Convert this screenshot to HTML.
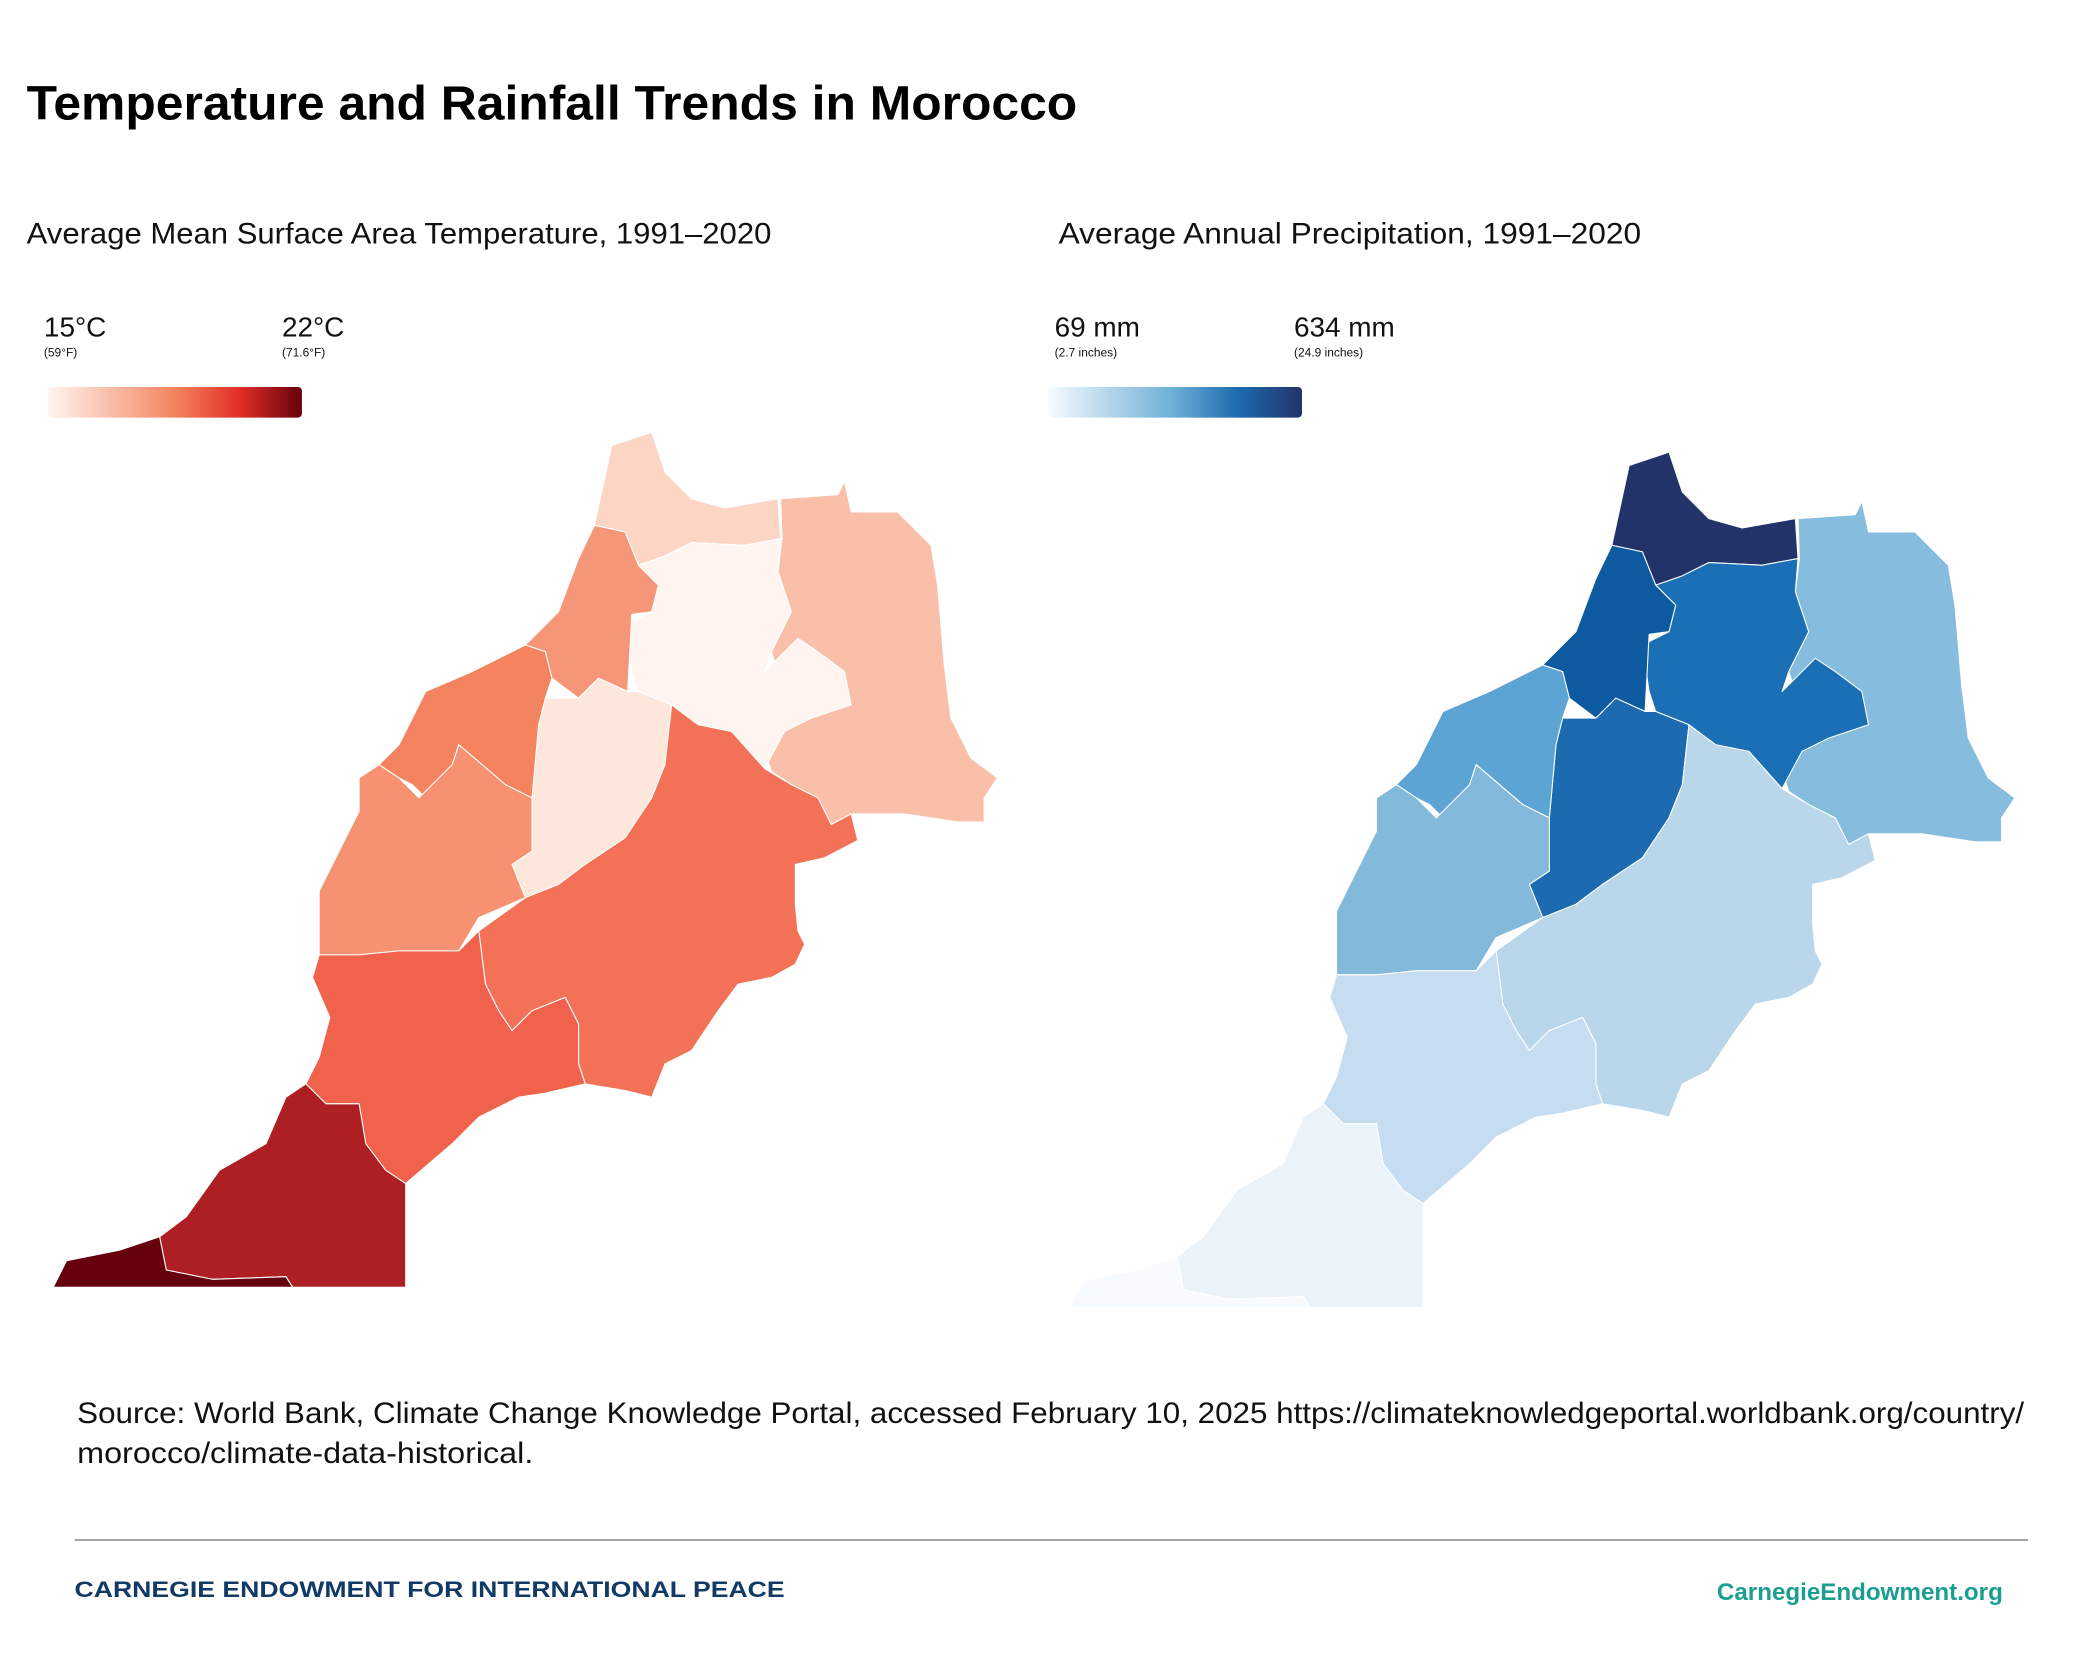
<!DOCTYPE html>
<html><head><meta charset="utf-8"><style>
html,body{margin:0;padding:0;background:#fff}
svg{display:block}
text{font-family:"Liberation Sans",sans-serif}
</style></head><body>
<svg width="2084" height="1665" viewBox="0 0 1567 1252" xmlns="http://www.w3.org/2000/svg">
<defs>
<linearGradient id="gr" x1="0" x2="1"><stop offset="0" stop-color="#fff5f0"/><stop offset="0.5" stop-color="#f4845f"/><stop offset="0.75" stop-color="#e32f27"/><stop offset="1" stop-color="#67000d"/></linearGradient>
<linearGradient id="gb" x1="0" x2="1"><stop offset="0" stop-color="#f7fbff"/><stop offset="0.5" stop-color="#6aaed6"/><stop offset="0.75" stop-color="#1c6aaf"/><stop offset="1" stop-color="#22336a"/></linearGradient>
</defs>
<text x="20" y="90" font-size="36" font-weight="bold" fill="#000" textLength="790" lengthAdjust="spacingAndGlyphs">Temperature and Rainfall Trends in Morocco</text>
<text x="20" y="183" font-size="22" fill="#111" textLength="560" lengthAdjust="spacingAndGlyphs">Average Mean Surface Area Temperature, 1991–2020</text>
<text x="796" y="183" font-size="22" fill="#111" textLength="438" lengthAdjust="spacingAndGlyphs">Average Annual Precipitation, 1991–2020</text>
<text x="33" y="253" font-size="21" fill="#111">15°C</text>
<text x="33" y="268" font-size="9" fill="#111">(59°F)</text>
<text x="212" y="253" font-size="21" fill="#111">22°C</text>
<text x="212" y="268" font-size="9" fill="#111">(71.6°F)</text>
<rect x="36" y="291" width="191" height="23" rx="3" fill="url(#gr)"/>
<text x="793" y="253" font-size="21" fill="#111">69 mm</text>
<text x="793" y="268" font-size="9" fill="#111">(2.7 inches)</text>
<text x="973" y="253" font-size="21" fill="#111">634 mm</text>
<text x="973" y="268" font-size="9" fill="#111">(24.9 inches)</text>
<rect x="788" y="291" width="191" height="23" rx="3" fill="url(#gb)"/>

<g stroke="#fff" stroke-width="0.8" stroke-linejoin="round">
<polygon fill="#fcd5c5" points="447,395 460,335 490,325 500,355 520,375 545,382 585,375 587,405 560,410 520,408 500,418 480,425 470,400"/>
<polygon fill="#f9bfa9" points="587,375 630,372 635,362 640,385 675,385 700,410 705,440 710,500 715,540 730,570 750,585 740,600 740,618 720,618 680,612 640,612 625,620 615,600 595,590 580,580 575,565 590,530 600,500 585,505 580,490 595,460 585,430 588,405"/>
<polygon fill="#fff4f0" points="480,425 500,418 520,408 560,410 587,405 585,430 595,460 580,490 575,505 600,480 615,490 635,505 640,530 610,540 590,550 575,578 550,550 525,545 505,530 480,520 475,505 470,470 490,460 495,440"/>
<polygon fill="#f69678" points="447,395 470,400 480,425 495,440 490,460 475,462 472,520 450,510 435,525 415,510 410,490 395,485 420,460 435,420"/>
<polygon fill="#fde6dc" points="410,525 435,525 450,510 472,520 480,520 505,530 500,575 490,600 470,630 440,650 420,665 395,675 385,650 400,640 400,600 405,545"/>
<polygon fill="#f4845f" points="395,485 410,490 415,510 410,525 405,545 400,600 380,590 345,560 340,575 320,600 310,590 300,585 285,575 300,560 320,520 355,505"/>
<polygon fill="#f69272" points="285,575 300,585 315,600 340,575 345,560 380,590 400,600 400,640 385,650 395,675 360,690 345,715 300,715 270,718 240,718 240,670 255,640 270,610 270,585"/>
<polygon fill="#f37157" points="500,575 505,530 525,545 550,550 575,578 595,590 615,600 625,620 640,612 645,632 620,645 598,650 598,680 600,700 605,710 598,725 580,735 555,740 540,760 520,790 500,800 490,825 470,820 440,815 435,800 435,770 425,750 400,760 385,775 375,760 365,740 360,700 395,675 420,665 440,650 470,630 490,600"/>
<polygon fill="#f0624b" points="240,718 270,718 300,715 345,715 360,700 365,740 375,760 385,775 400,760 425,750 435,770 435,800 440,815 410,822 390,825 360,840 340,860 305,890 290,880 275,860 270,830 245,830 230,815 240,795 248,765 235,735"/>
<polygon fill="#ae1f24" points="230,815 245,830 270,830 275,860 290,880 305,890 305,968 220,968 215,960 160,962 125,955 120,930 140,915 165,880 200,860 215,825"/>
<polygon fill="#67000d" points="120,930 125,955 160,962 215,960 220,968 40,968 50,948 90,940"/>
</g>
<g stroke="#fff" stroke-width="0.8" stroke-linejoin="round" transform="translate(765,15)">
<polygon fill="#22336a" points="447,395 460,335 490,325 500,355 520,375 545,382 585,375 587,405 560,410 520,408 500,418 480,425 470,400"/>
<polygon fill="#86bcdd" points="587,375 630,372 635,362 640,385 675,385 700,410 705,440 710,500 715,540 730,570 750,585 740,600 740,618 720,618 680,612 640,612 625,620 615,600 595,590 580,580 575,565 590,530 600,500 585,505 580,490 595,460 585,430 588,405"/>
<polygon fill="#1a6fb5" points="480,425 500,418 520,408 560,410 587,405 585,430 595,460 580,490 575,505 600,480 615,490 635,505 640,530 610,540 590,550 575,578 550,550 525,545 505,530 480,520 475,505 470,470 490,460 495,440"/>
<polygon fill="#0e5aa0" points="447,395 470,400 480,425 495,440 490,460 475,462 472,520 450,510 435,525 415,510 410,490 395,485 420,460 435,420"/>
<polygon fill="#1c6aaf" points="410,525 435,525 450,510 472,520 480,520 505,530 500,575 490,600 470,630 440,650 420,665 395,675 385,650 400,640 400,600 405,545"/>
<polygon fill="#5ca4d3" points="395,485 410,490 415,510 410,525 405,545 400,600 380,590 345,560 340,575 320,600 310,590 300,585 285,575 300,560 320,520 355,505"/>
<polygon fill="#83badc" points="285,575 300,585 315,600 340,575 345,560 380,590 400,600 400,640 385,650 395,675 360,690 345,715 300,715 270,718 240,718 240,670 255,640 270,610 270,585"/>
<polygon fill="#bad6eb" points="500,575 505,530 525,545 550,550 575,578 595,590 615,600 625,620 640,612 645,632 620,645 598,650 598,680 600,700 605,710 598,725 580,735 555,740 540,760 520,790 500,800 490,825 470,820 440,815 435,800 435,770 425,750 400,760 385,775 375,760 365,740 360,700 395,675 420,665 440,650 470,630 490,600"/>
<polygon fill="#c6dcf0" points="240,718 270,718 300,715 345,715 360,700 365,740 375,760 385,775 400,760 425,750 435,770 435,800 440,815 410,822 390,825 360,840 340,860 305,890 290,880 275,860 270,830 245,830 230,815 240,795 248,765 235,735"/>
<polygon fill="#eaf2fa" points="230,815 245,830 270,830 275,860 290,880 305,890 305,968 220,968 215,960 160,962 125,955 120,930 140,915 165,880 200,860 215,825"/>
<polygon fill="#f7fbff" points="120,930 125,955 160,962 215,960 220,968 40,968 50,948 90,940"/>
</g>

<text x="58" y="1070" font-size="22" fill="#111" textLength="1464" lengthAdjust="spacingAndGlyphs">Source: World Bank, Climate Change Knowledge Portal, accessed February 10, 2025 https://climateknowledgeportal.worldbank.org/country/</text>
<text x="58" y="1100" font-size="22" fill="#111" textLength="343" lengthAdjust="spacingAndGlyphs">morocco/climate-data-historical.</text>
<line x1="56" y1="1158" x2="1525" y2="1158" stroke="#888" stroke-width="1.2"/>
<text x="56" y="1201" font-size="17" font-weight="bold" fill="#123a66" textLength="534" lengthAdjust="spacingAndGlyphs">CARNEGIE ENDOWMENT FOR INTERNATIONAL PEACE</text>
<text x="1291" y="1203" font-size="18" font-weight="bold" fill="#1a9e8f" textLength="215" lengthAdjust="spacingAndGlyphs">CarnegieEndowment.org</text>
</svg>
</body></html>
